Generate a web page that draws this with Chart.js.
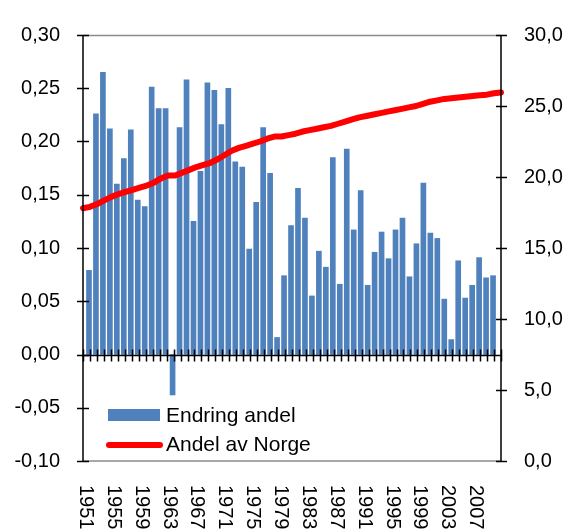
<!DOCTYPE html>
<html>
<head>
<meta charset="utf-8">
<script src="https://cdn.jsdelivr.net/npm/chart.js@4.4.1/dist/chart.umd.min.js"></script>
<style>
  html, body { margin: 0; padding: 0; background: #fff; }
  #wrap { width: 568px; height: 529px; }
</style>
</head>
<body>
<div id="wrap"><canvas id="chart" width="568" height="529"></canvas></div>
<script>
const years = [
    1951, 1952, 1953, 1954, 1955, 1956, 1957, 1958, 1959, 1960,
    1961, 1962, 1963, 1964, 1965, 1966, 1967, 1968, 1969, 1970,
    1971, 1972, 1973, 1974, 1975, 1976, 1977, 1978, 1979, 1980,
    1981, 1982, 1983, 1984, 1985, 1986, 1987, 1988, 1989, 1990,
    1991, 1992, 1993, 1994, 1995, 1996, 1997, 1998, 1999, 2000,
    2001, 2002, 2003, 2004, 2005, 2006, 2007, 2008, 2009, 2010
];

// Endring andel (left axis), 1951-2009
const endringAndel = [
    0.079, 0.226, 0.265, 0.212, 0.160, 0.184, 0.211, 0.145, 0.139, 0.251,
    0.231, 0.231, -0.038, 0.213, 0.258, 0.125, 0.172, 0.255, 0.248, 0.216,
    0.250, 0.181, 0.176, 0.099, 0.143, 0.213, 0.170, 0.016, 0.074, 0.121,
    0.156, 0.128, 0.055, 0.097, 0.082, 0.185, 0.066, 0.193, 0.117, 0.154,
    0.065, 0.096, 0.115, 0.090, 0.117, 0.128, 0.073, 0.104, 0.161, 0.114,
    0.109, 0.052, 0.014, 0.088, 0.053, 0.065, 0.091, 0.072, 0.074
];

// Andel av Norge (right axis), 1951-2010
const andelAvNorge = [
    17.8, 17.9, 18.1, 18.35, 18.6, 18.8, 18.95, 19.1, 19.25, 19.4,
    19.6, 19.9, 20.1, 20.1, 20.3, 20.5, 20.7, 20.85, 21.0, 21.25,
    21.55, 21.85, 22.05, 22.2, 22.35, 22.5, 22.7, 22.85, 22.85, 22.95,
    23.05, 23.2, 23.3, 23.4, 23.5, 23.6, 23.75, 23.9, 24.05, 24.2,
    24.3, 24.4, 24.5, 24.6, 24.7, 24.8, 24.9, 25.0, 25.15, 25.3,
    25.4, 25.5, 25.55, 25.6, 25.65, 25.7, 25.75, 25.8, 25.9, 25.95
];

const labelEvery = 4;

const FONT = '"Liberation Sans", Arial, sans-serif';
const BAR_COLOR = '#4F81BD';
const LINE_COLOR = '#FF0000';

const comma = (v, d) => {
    if (Math.abs(v) < 1e-9) v = 0;
    return v.toFixed(d).replace('.', ',');
};

// axes, frame, zero line, rotated year labels and legend
const decorations = {
    id: 'decorations',
    beforeDatasetsDraw(chart) {
        const { ctx, chartArea: a } = chart;
        ctx.save();
        ctx.strokeStyle = '#8c8c8c';
        ctx.lineWidth = 1.5;
        ctx.beginPath();
        ctx.moveTo(a.left, a.top + 0.5);
        ctx.lineTo(a.right, a.top + 0.5);
        ctx.moveTo(a.left, a.bottom);
        ctx.lineTo(a.right, a.bottom);
        ctx.stroke();
        ctx.restore();
    },
    afterDatasetsDraw(chart) {
        const { ctx, chartArea: a, scales } = chart;
        const x = scales.x, y = scales.y, y1 = scales.y1;
        ctx.save();
        ctx.strokeStyle = '#000';
        ctx.lineWidth = 1.5;

        // zero line with category tick marks
        const y0 = Math.round(y.getPixelForValue(0)) + 0.5;
        ctx.beginPath();
        ctx.moveTo(a.left, y0);
        ctx.lineTo(a.right, y0);
        const step = x.width / years.length;
        for (let i = 0; i <= years.length; i++) {
            const px = Math.round(a.left + step * i) + 0.5;
            ctx.moveTo(px, y0 - 6);
            ctx.lineTo(px, y0 + 6);
        }
        ctx.stroke();

        // left and right axes
        ctx.beginPath();
        ctx.moveTo(a.left, a.top);
        ctx.lineTo(a.left, a.bottom);
        ctx.moveTo(a.right, a.top);
        ctx.lineTo(a.right, a.bottom);
        y.ticks.forEach(t => {
            const py = Math.round(y.getPixelForValue(t.value)) + 0.5;
            ctx.moveTo(a.left - 6, py);
            ctx.lineTo(a.left + 6, py);
        });
        y1.ticks.forEach(t => {
            const py = Math.round(y1.getPixelForValue(t.value)) + 0.5;
            ctx.moveTo(a.right - 5, py);
            ctx.lineTo(a.right + 6, py);
        });
        ctx.stroke();
        ctx.restore();
    },
    afterDraw(chart) {
        const { ctx, scales } = chart;
        const x = scales.x;
        ctx.save();
        ctx.fillStyle = '#000';
        ctx.font = '20px ' + FONT;
        ctx.textAlign = 'left';
        ctx.textBaseline = 'middle';
        years.forEach((yr, i) => {
            if (i % labelEvery !== 0) return;
            ctx.save();
            ctx.translate(x.getPixelForValue(i) - 1, 485);
            ctx.rotate(Math.PI / 2);
            ctx.fillText(String(yr), 0, 0);
            ctx.restore();
        });

        // legend
        const ds = chart.data.datasets;
        const bar = ds.find(d => d.type === 'bar');
        const line = ds.find(d => d.type === 'line');
        ctx.fillStyle = bar.backgroundColor;
        ctx.fillRect(108, 409, 52, 12);
        ctx.strokeStyle = line.borderColor;
        ctx.lineWidth = 6;
        ctx.lineCap = 'round';
        ctx.beginPath();
        ctx.moveTo(109, 445);
        ctx.lineTo(160, 445);
        ctx.stroke();
        ctx.fillStyle = '#000';
        ctx.font = '21px ' + FONT;
        ctx.fillText(bar.label, 166, 416);
        ctx.fillText(line.label, 166, 445);
        ctx.restore();
    }
};

new Chart(document.getElementById('chart'), {
    data: {
        labels: years,
        datasets: [
            {
                type: 'line',
                label: 'Andel av Norge',
                data: andelAvNorge,
                xAxisID: 'x2',
                yAxisID: 'y1',
                borderColor: LINE_COLOR,
                borderWidth: 6,
                borderCapStyle: 'round',
                borderJoinStyle: 'round',
                pointRadius: 0,
                tension: 0,
                fill: false,
                order: 0
            },
            {
                type: 'bar',
                label: 'Endring andel',
                data: endringAndel,
                xAxisID: 'x',
                yAxisID: 'y',
                backgroundColor: BAR_COLOR,
                barThickness: 5,
                order: 1
            }
        ]
    },
    options: {
        responsive: false,
        animation: false,
        devicePixelRatio: 1,
        layout: {
            padding: { top: 22, left: 0, right: 0, bottom: 0 }
        },
        plugins: {
            legend: { display: false },
            tooltip: { enabled: false }
        },
        scales: {
            x: {
                type: 'category',
                offset: true,
                grid: { display: false, drawTicks: false },
                border: { display: false },
                ticks: { display: false },
                afterFit: (s) => { s.height = 68; }
            },
            x2: {
                type: 'category',
                labels: years,
                offset: false,
                display: false
            },
            y: {
                position: 'left',
                min: -0.1,
                max: 0.3,
                grid: { display: false, drawTicks: false },
                border: { display: false },
                ticks: {
                    stepSize: 0.05,
                    padding: 23,
                    color: '#000',
                    font: { family: FONT, size: 20 },
                    callback: (v) => comma(v, 2)
                },
                afterFit: (s) => { s.width = 83; }
            },
            y1: {
                position: 'right',
                min: 0,
                max: 30,
                grid: { display: false, drawTicks: false },
                border: { display: false },
                ticks: {
                    stepSize: 5,
                    padding: 23,
                    color: '#000',
                    font: { family: FONT, size: 20 },
                    callback: (v) => comma(v, 1)
                },
                afterFit: (s) => { s.width = 67; }
            }
        }
    },
    plugins: [decorations]
});
</script>
</body>
</html>
